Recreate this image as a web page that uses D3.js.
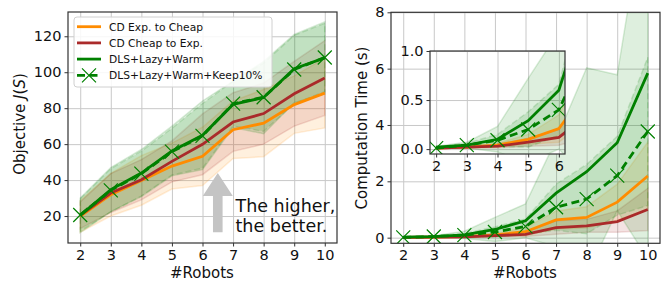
<!DOCTYPE html>
<html>
<head>
<meta charset="utf-8">
<script src="https://cdn.jsdelivr.net/npm/d3@7/dist/d3.min.js"></script>
<style>
body { margin: 0; background: #fff; }
svg { font-family: "DejaVu Sans", sans-serif; }
</style>
</head>
<body>
<div id="chart"></div>
<script>
// Data
var robots = [2, 3, 4, 5, 6, 7, 8, 9, 10];
var seriesNames = ["CD Exp. to Cheap", "CD Cheap to Exp.", "DLS+Lazy+Warm", "DLS+Lazy+Warm+Keep10%"];

var objExpToCheap = [19.8, 31.9, 39.8, 47.8, 53.2, 68.0, 71.7, 82.0, 88.4];
var objCheapToExp = [20.4, 32.8, 40.2, 50.4, 59.9, 72.3, 77.0, 88.0, 96.8];
var objDls = [20.4, 34.7, 43.9, 56.2, 64.9, 82.1, 85.9, 102.0, 108.0];
var objKeep = [20.6, 34.3, 43.6, 55.8, 64.6, 82.5, 86.1, 101.5, 108.2];
var objStdExpToCheap = [8.8, 11.9, 13.8, 12.8, 16.2, 16.0, 18.7, 16.0, 19.4];
var objStdCheapToExp = [7.4, 10.8, 11.2, 11.4, 16.9, 16.3, 17.0, 18.0, 20.8];
var objStdDls = [9.6, 12.3, 13.1, 13.8, 19.1, 12.9, 20.1, 19.0, 20.0];
var objStdKeep = [9.0, 12.0, 12.5, 13.0, 18.0, 12.5, 19.0, 19.0, 19.0];

var timeExpToCheap = [0.01, 0.02, 0.04, 0.10, 0.21, 0.63, 0.72, 1.26, 2.19];
var timeCheapToExp = [0.01, 0.02, 0.03, 0.07, 0.12, 0.36, 0.42, 0.57, 1.00];
var timeDls = [0.02, 0.04, 0.10, 0.29, 0.60, 1.58, 2.34, 3.37, 5.84];
var timeKeep = [0.01, 0.04, 0.09, 0.20, 0.40, 1.08, 1.37, 2.20, 3.77];
var timeStdExpToCheap = [0.005, 0.01, 0.02, 0.05, 0.14, 0.32, 0.38, 0.64, 1.20];
var timeStdCheapToExp = [0.005, 0.01, 0.02, 0.04, 0.08, 0.24, 0.23, 0.38, 0.75];
var timeStdDls = [0.01, 0.03, 0.13, 0.43, 0.60, 1.90, 3.69, 2.41, 6.60];
var timeStdKeep = [0.01, 0.02, 0.06, 0.18, 0.26, 0.82, 1.23, 1.40, 2.63];

var objTicks = [20, 40, 60, 80, 100, 120];
var timeTicks = [0, 2, 4, 6, 8];
var insetXTicks = [2, 3, 4, 5, 6];
var insetYTicks = [0.0, 0.5, 1.0];

// Globals
var width = 664;
var height = 282;
var colors = ["#ff8c00", "#aa2a2a", "#008000", "#008000"];
var tickFont = 14.5;

var svg = d3.select("#chart")
	.append("svg")
	.attr("width", width)
	.attr("height", height);

var clipId = 0;

function series(means, stds) {
	return robots.map(function(r, i) { return {x: r, y: means[i], lo: means[i] - stds[i], hi: means[i] + stds[i]}; });
}

function DrawPanel(p) {
	var g = svg.append("g");
	var x = d3.scaleLinear().domain(p.xDomain).range(p.xRange);
	var y = d3.scaleLinear().domain(p.yDomain).range(p.yRange);
	var x0 = p.xRange[0], x1 = p.xRange[1], y0 = p.yRange[1], y1 = p.yRange[0];

	g.append("rect")
		.attr("x", x0).attr("y", y0)
		.attr("width", x1 - x0).attr("height", y1 - y0)
		.attr("fill", "#fff");

	var id = "clip" + (clipId++);
	g.append("clipPath").attr("id", id)
		.append("rect")
		.attr("x", x0).attr("y", y0)
		.attr("width", x1 - x0).attr("height", y1 - y0);

	// grid
	g.append("g")
		.attr("transform", "translate(0," + y1 + ")")
		.call(d3.axisBottom(x).tickValues(p.xTicks).tickSize(-(y1 - y0)).tickFormat(""))
		.call(function(a) { a.select(".domain").remove(); a.selectAll("line").attr("stroke", "#c8c8c8").attr("stroke-width", 1); });
	g.append("g")
		.attr("transform", "translate(" + x0 + ",0)")
		.call(d3.axisLeft(y).tickValues(p.yTicks).tickSize(-(x1 - x0)).tickFormat(""))
		.call(function(a) { a.select(".domain").remove(); a.selectAll("line").attr("stroke", "#c8c8c8").attr("stroke-width", 1); });

	var plot = g.append("g").attr("clip-path", "url(#" + id + ")");

	var area = d3.area()
		.x(function(d) { return x(d.x); })
		.y0(function(d) { return y(d.lo); })
		.y1(function(d) { return y(d.hi); });
	var line = d3.line()
		.x(function(d) { return x(d.x); })
		.y(function(d) { return y(d.y); });

	p.data.forEach(function(s, k) {
		plot.append("path")
			.attr("d", area(s))
			.attr("fill", colors[k])
			.attr("fill-opacity", 0.13)
			.attr("stroke", colors[k])
			.attr("stroke-opacity", 0.15)
			.attr("stroke-width", 1.5)
			.attr("stroke-dasharray", k == 3 ? "6,3" : null);
	});

	p.data.forEach(function(s, k) {
		plot.append("path")
			.attr("d", line(s))
			.attr("fill", "none")
			.attr("stroke", colors[k])
			.attr("stroke-width", 2.8)
			.attr("stroke-dasharray", k == 3 ? "8,4.5" : null);
		if (k == 3) {
			plot.selectAll(".mk" + id)
				.data(s)
				.enter().append("path")
				.attr("d", "M-7,-7L7,7M-7,7L7,-7")
				.attr("transform", function(d) { return "translate(" + x(d.x) + "," + y(d.y) + ")"; })
				.attr("stroke", colors[k])
				.attr("stroke-width", 1.2)
				.attr("fill", "none");
		}
	});

	// axes
	var ax = g.append("g")
		.attr("transform", "translate(0," + y1 + ")")
		.call(d3.axisBottom(x).tickValues(p.xTicks).tickSize(3.5).tickPadding(3).tickFormat(d3.format("d")));
	var ay = g.append("g")
		.attr("transform", "translate(" + x0 + ",0)")
		.call(d3.axisLeft(y).tickValues(p.yTicks).tickSize(3.5).tickPadding(3).tickFormat(p.yFormat));
	[ax, ay].forEach(function(a) {
		a.select(".domain").remove();
		a.selectAll("text").attr("font-size", tickFont).attr("fill", "#111").attr("font-family", "DejaVu Sans");
		a.selectAll("line").attr("stroke", "#333");
	});

	g.append("rect")
		.attr("x", x0).attr("y", y0)
		.attr("width", x1 - x0).attr("height", y1 - y0)
		.attr("fill", "none")
		.attr("stroke", "#333")
		.attr("stroke-width", 1.2);

	return {g: g, x: x, y: y};
}

// Main
var objData = [series(objExpToCheap, objStdExpToCheap), series(objCheapToExp, objStdCheapToExp),
	series(objDls, objStdDls), series(objKeep, objStdKeep)];
var timeData = [series(timeExpToCheap, timeStdExpToCheap), series(timeCheapToExp, timeStdCheapToExp),
	series(timeDls, timeStdDls), series(timeKeep, timeStdKeep)];

var left = DrawPanel({
	xDomain: [1.6, 10.4], xRange: [68, 337],
	yDomain: [5, 133.5], yRange: [243, 12],
	xTicks: robots, yTicks: objTicks, yFormat: d3.format("d"),
	data: objData
});

// annotation arrow
var ax0 = left.x(6.5), aBot = left.y(11), aTop = left.y(44);
left.g.append("path")
	.attr("d", "M" + (ax0 - 4.8) + "," + aBot + "V" + (aTop + 23) + "H" + (ax0 - 15) + "L" + ax0 + "," + aTop +
		"L" + (ax0 + 15) + "," + (aTop + 23) + "H" + (ax0 + 4.8) + "V" + aBot + "Z")
	.attr("fill", "#c4c4c4");
left.g.append("text")
	.attr("x", left.x(7.08)).attr("y", left.y(22))
	.attr("font-size", 17.5).attr("fill", "#111")
	.text("The higher,");
left.g.append("text")
	.attr("x", left.x(7.08)).attr("y", left.y(11.1))
	.attr("font-size", 17.5).attr("fill", "#111")
	.text("the better.");

// legend
var legend = left.g.append("g").attr("transform", "translate(74,17)");
legend.append("rect")
	.attr("width", 198).attr("height", 70)
	.attr("rx", 3)
	.attr("fill", "#fff").attr("fill-opacity", 0.85)
	.attr("stroke", "#d0d0d0");
seriesNames.forEach(function(name, k) {
	var ly = 9.7 + k * 16.2;
	legend.append("line")
		.attr("x1", 3).attr("x2", 27)
		.attr("y1", ly).attr("y2", ly)
		.attr("stroke", colors[k]).attr("stroke-width", 2.8)
		.attr("stroke-dasharray", k == 3 ? "8,4.5" : null);
	if (k == 3) {
		legend.append("path")
			.attr("d", "M-7,-7L7,7M-7,7L7,-7")
			.attr("transform", "translate(15," + ly + ")")
			.attr("stroke", colors[k]).attr("stroke-width", 1.2);
	}
	legend.append("text")
		.attr("x", 35).attr("y", ly + 4)
		.attr("font-size", 10.7).attr("fill", "#111")
		.text(name);
});

var right = DrawPanel({
	xDomain: [1.6, 10.4], xRange: [391, 660],
	yDomain: [-0.2, 8], yRange: [243.3, 12.3],
	xTicks: robots, yTicks: timeTicks, yFormat: d3.format("d"),
	data: timeData
});

var inset = DrawPanel({
	xDomain: [1.8, 6.2], xRange: [430, 565],
	yDomain: [-0.05, 1.0], yRange: [154, 51],
	xTicks: insetXTicks, yTicks: insetYTicks, yFormat: d3.format(".1f"),
	data: timeData
});

// axis labels
svg.append("text")
	.attr("x", 202).attr("y", 278)
	.attr("text-anchor", "middle").attr("font-size", 15).attr("fill", "#111")
	.text("#Robots");
svg.append("text")
	.attr("x", 525).attr("y", 278)
	.attr("text-anchor", "middle").attr("font-size", 15).attr("fill", "#111")
	.text("#Robots");

var yl = svg.append("text")
	.attr("transform", "translate(25,124) rotate(-90)")
	.attr("text-anchor", "middle").attr("font-size", 15).attr("fill", "#111");
yl.append("tspan").text("Objective ");
yl.append("tspan").attr("font-style", "italic").text("J");
yl.append("tspan").text("(");
yl.append("tspan").attr("font-style", "italic").text("S");
yl.append("tspan").text(")");

svg.append("text")
	.attr("transform", "translate(367,128) rotate(-90)")
	.attr("text-anchor", "middle").attr("font-size", 15).attr("fill", "#111")
	.text("Computation Time (s)");
</script>
</body>
</html>
